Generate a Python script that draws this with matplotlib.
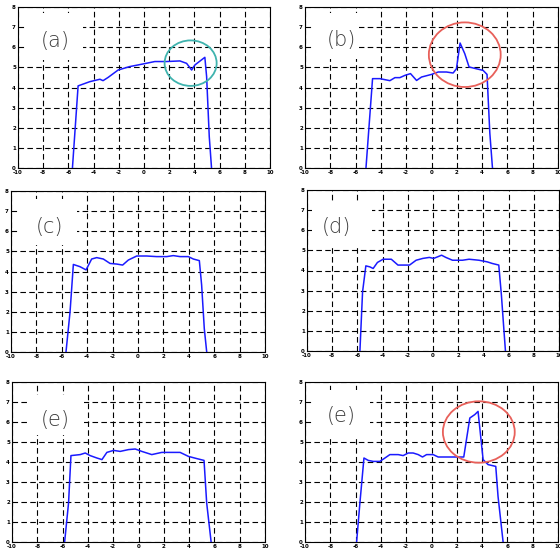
import matplotlib
matplotlib.use("Agg")
import matplotlib.pyplot as plt
from matplotlib.patches import Ellipse, Rectangle

# ---- data ----
xa = [-5.68, -5.23, -4.3, -3.5, -3.25, -2.85, -2.05, -1.13, -0.07, 0.86, 1.79, 2.85, 3.38, 3.78, 4.04, 4.83, 4.97, 5.18, 5.36]
ya = [0.0, 4.08, 4.29, 4.41, 4.34, 4.5, 4.87, 5.04, 5.17, 5.29, 5.29, 5.32, 5.2, 4.87, 5.12, 5.5, 4.54, 1.55, 0.0]

xb = [-5.18, -4.66, -4.08, -3.29, -2.89, -2.5, -2.11, -1.66, -1.18, -0.79, 0.0, 0.53, 1.18, 1.71, 1.97, 2.26, 2.63, 2.97, 3.55, 4.08, 4.39, 4.61, 4.82]
yb = [0.0, 4.44, 4.44, 4.34, 4.49, 4.49, 4.6, 4.69, 4.35, 4.52, 4.65, 4.77, 4.77, 4.72, 4.93, 6.21, 5.68, 5.02, 4.93, 4.85, 4.65, 1.74, 0.0]

xc = [-5.67, -5.35, -5.09, -4.57, -4.09, -3.65, -3.25, -2.73, -2.2, -1.68, -1.21, -0.76, -0.1, 0.68, 1.47, 2.26, 2.78, 3.31, 3.96, 4.36, 4.83, 5.01, 5.22, 5.41]
yc = [0.0, 2.0, 4.35, 4.24, 4.08, 4.62, 4.69, 4.62, 4.4, 4.37, 4.32, 4.57, 4.77, 4.77, 4.74, 4.74, 4.79, 4.74, 4.74, 4.62, 4.54, 3.33, 1.16, 0.0]

xd = [-5.8, -5.59, -5.33, -5.01, -4.75, -4.41, -3.96, -3.31, -2.78, -1.86, -1.34, -0.81, -0.29, 0.05, 0.37, 0.68, 1.02, 1.55, 2.34, 2.86, 3.65, 4.3, 4.7, 5.22, 5.43, 5.62, 5.75]
yd = [0.0, 2.94, 4.23, 4.18, 4.1, 4.4, 4.56, 4.56, 4.27, 4.27, 4.51, 4.6, 4.65, 4.6, 4.68, 4.76, 4.65, 4.51, 4.51, 4.56, 4.51, 4.43, 4.35, 4.27, 2.77, 1.11, 0.0]

xe = [-5.84, -5.53, -5.34, -4.61, -4.21, -3.82, -3.29, -2.89, -2.5, -1.97, -1.45, -0.79, -0.26, 0.26, 1.05, 1.84, 3.29, 3.95, 4.61, 5.18, 5.39, 5.66, 5.74]
ye = [0.0, 1.95, 4.32, 4.37, 4.45, 4.32, 4.2, 4.12, 4.48, 4.58, 4.53, 4.62, 4.65, 4.53, 4.37, 4.48, 4.48, 4.28, 4.17, 4.08, 1.95, 0.45, 0.0]

xf = [-5.92, -5.66, -5.34, -5.0, -4.61, -4.08, -3.68, -3.29, -2.63, -2.24, -1.84, -1.45, -1.05, -0.71, -0.39, 0.13, 0.53, 1.18, 2.55, 3.03, 3.42, 3.68, 4.08, 4.47, 5.08, 5.26, 5.66]
yf = [0.0, 1.95, 4.2, 4.08, 4.03, 4.03, 4.2, 4.37, 4.37, 4.32, 4.45, 4.45, 4.37, 4.25, 4.37, 4.37, 4.25, 4.25, 4.25, 6.2, 6.37, 6.53, 4.12, 3.87, 3.78, 2.28, 0.0]

labels = ["(a)", "(b)", "(c)", "(d)", "(e)", "(e)"]
xticks = [-10, -8, -6, -4, -2, 0, 2, 4, 6, 8, 10]
yticks = [0, 1, 2, 3, 4, 5, 6, 7, 8]

# ellipse annotations: (panel index, center x, center y, width, height, colour)
circles = [
    (0, 3.70, 5.21, 4.13, 2.26, "#3fb3ae"),
    (1, 2.63, 5.63, 5.68, 3.21, "#e8605a"),
    (5, 3.74, 5.50, 5.68, 3.07, "#e8605a"),
]
label_pos = [(-7.06, 6.31), (-7.1, 6.37), (-6.93, 6.21), (-7.64, 6.17), (-6.58, 6.12), (-7.1, 6.28)]
# white patch behind each label (x0, x1, y0, y1) where the grid is hidden
label_box = [(-9.37, -4.84, 5.36, 7.7), (-9.4, -5.7, 5.4, 7.7), (-9.45, -4.8, 5.3, 7.6),
             (-9.6, -4.84, 5.26, 7.35), (-8.66, -4.31, 5.35, 7.35), (-9.4, -4.9, 5.3, 7.6)]

series = [(xa, ya), (xb, yb), (xc, yc), (xd, yd), (xe, ye), (xf, yf)]

# axes rectangles in pixels: left, top, right, bottom
W, H = 560, 551
rects_px = [
    (18, 7, 270, 168),
    (305, 7, 558, 168),
    (11, 191, 265, 352),
    (307, 190, 559, 351),
    (12, 382, 265, 542),
    (305, 382, 558, 542),
]

fig = plt.figure(figsize=(W / 100, H / 100), dpi=100)
fig.patch.set_facecolor("white")

for i, (l, t, r, b) in enumerate(rects_px):
    ax = fig.add_axes([l / W, 1 - b / H, (r - l) / W, (b - t) / H])
    x, y = series[i]
    ax.plot(x, y, color="#1a1aff", lw=1.1, zorder=3)
    ax.set_xlim(-10, 10)
    ax.set_ylim(0, 8)
    ax.set_xticks(xticks)
    ax.set_yticks(yticks)
    ax.set_xticklabels([str(v) for v in xticks])
    ax.set_yticklabels([str(v) for v in yticks])
    ax.tick_params(axis="both", direction="in", length=2, width=0.6,
                   labelsize=4, pad=1.5, colors="black")
    for lab in ax.get_xticklabels() + ax.get_yticklabels():
        lab.set_fontweight("bold")
    ax.grid(True, color="black", linestyle=(0, (5, 3)), linewidth=0.8, zorder=1)
    ax.set_axisbelow(True)
    for s in ax.spines.values():
        s.set_linewidth(0.8)
        s.set_color("black")
    x0, x1, y0, y1 = label_box[i]
    ax.add_patch(Rectangle((x0, y0), x1 - x0, y1 - y0, facecolor="white",
                           edgecolor="none", zorder=2))
    lx, ly = label_pos[i]
    ax.text(lx, ly, labels[i], fontsize=15, color="#3a3a3a",
            ha="center", va="center", family="DejaVu Sans",
            fontweight="light", zorder=4)
    for (pi, cx, cy, w, h, col) in circles:
        if pi == i:
            ax.add_patch(Ellipse((cx, cy), w, h, fill=False, edgecolor=col,
                                 lw=1.3, zorder=5))

fig.savefig("out.png", dpi=100, facecolor="white")
